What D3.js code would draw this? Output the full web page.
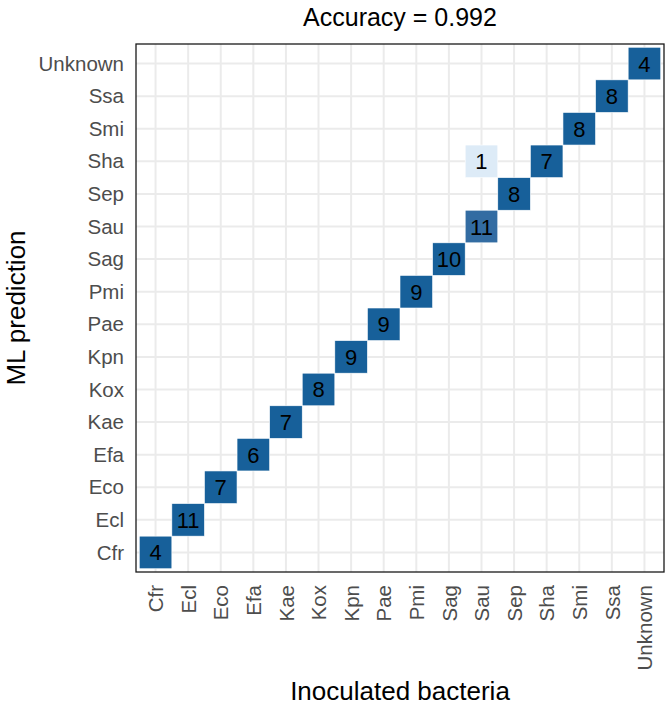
<!DOCTYPE html>
<html>
<head>
<meta charset="utf-8">
<script src="https://cdn.jsdelivr.net/npm/d3@7"></script>
<style>
  body { margin: 0; background: #fff; }
  text { font-family: "Liberation Sans", Arial, sans-serif; }
</style>
</head>
<body>
<script>
// classes, same order on both axes
var classes = ["Cfr", "Ecl", "Eco", "Efa", "Kae", "Kox", "Kpn", "Pae", "Pmi",
               "Sag", "Sau", "Sep", "Sha", "Smi", "Ssa", "Unknown"]

// confusion counts: inoculated (truth) vs predicted
var truth     = ["Cfr", "Ecl", "Eco", "Efa", "Kae", "Kox", "Kpn", "Pae", "Pmi",
                 "Sag", "Sau", "Sau", "Sep", "Sha", "Smi", "Ssa", "Unknown"]
var predicted = ["Cfr", "Ecl", "Eco", "Efa", "Kae", "Kox", "Kpn", "Pae", "Pmi",
                 "Sag", "Sau", "Sha", "Sep", "Sha", "Smi", "Ssa", "Unknown"]
var counts    = [4, 11, 7, 6, 7, 8, 9, 9, 9, 10, 11, 1, 8, 7, 8, 8, 4]

var title = "Accuracy = 0.992"

function main() {
  width = 666
  height = 709

  var svg = d3.select("body").append("svg")
    .attr("width", width)
    .attr("height", height)

  var left = 136, top = 44, size = 528

  // column totals for fill proportion
  var colTotal = {}
  truth.forEach(function(t, i) { colTotal[t] = (colTotal[t] || 0) + counts[i] })

  var data = counts.map(function(c, i) {
    return { x: truth[i], y: predicted[i], n: c, p: c / colTotal[truth[i]] }
  })

  // ggplot style discrete expansion: 0.6 of a unit at each end
  var unit = size / (classes.length - 1 + 1.2)
  var x = d3.scalePoint().domain(classes)
    .range([left + 0.6 * unit, left + size - 0.6 * unit])
  var y = d3.scalePoint().domain(classes)
    .range([top + size - 0.6 * unit, top + 0.6 * unit])

  var fill = d3.scaleLinear().domain(d3.extent(data, function(d) { return d.p }))
    .range(["#ddebf7", "#17609a"])
    .interpolate(d3.interpolateLab)

  // grid
  var g = svg.append("g")
  g.selectAll("line.vx").data(classes).enter().append("line")
    .attr("x1", function(d) { return x(d) }).attr("x2", function(d) { return x(d) })
    .attr("y1", top).attr("y2", top + size)
    .attr("stroke", "#ebebeb").attr("stroke-width", 2)
  g.selectAll("line.hy").data(classes).enter().append("line")
    .attr("y1", function(d) { return y(d) }).attr("y2", function(d) { return y(d) })
    .attr("x1", left).attr("x2", left + size)
    .attr("stroke", "#ebebeb").attr("stroke-width", 2)

  // tiles
  g.selectAll("rect.tile").data(data).enter().append("rect")
    .attr("x", function(d) { return x(d.x) - unit / 2 })
    .attr("y", function(d) { return y(d.y) - unit / 2 })
    .attr("width", unit).attr("height", unit)
    .attr("fill", function(d) { return fill(d.p) })
    .attr("stroke", "#ffffff").attr("stroke-width", 0.6)

  g.selectAll("text.lab").data(data).enter().append("text")
    .attr("x", function(d) { return x(d.x) })
    .attr("y", function(d) { return y(d.y) + 8 })
    .attr("text-anchor", "middle")
    .attr("font-size", 22)
    .attr("fill", "#000")
    .text(function(d) { return d.n })

  // border
  svg.append("rect")
    .attr("x", left).attr("y", top).attr("width", size).attr("height", size)
    .attr("fill", "none").attr("stroke", "#1a1a1a").attr("stroke-width", 1.3)

  // axes (labels only, no ticks)
  var yAxis = svg.append("g")
    .attr("transform", "translate(" + left + ",0)")
    .call(d3.axisLeft(y).tickSize(0).tickPadding(12))
  yAxis.select(".domain").remove()
  yAxis.selectAll("text")
    .attr("font-size", 20.5).attr("fill", "#4d4d4d")
    .attr("font-family", "Liberation Sans, Arial, sans-serif")

  var xAxis = svg.append("g")
    .attr("transform", "translate(0," + (top + size) + ")")
    .call(d3.axisBottom(x).tickSize(0))
  xAxis.select(".domain").remove()
  xAxis.selectAll("text")
    .attr("font-size", 20.5).attr("fill", "#4d4d4d")
    .attr("font-family", "Liberation Sans, Arial, sans-serif")
    .attr("text-anchor", "end")
    .attr("transform", "rotate(-90)")
    .attr("x", -13).attr("y", 0).attr("dy", "0.35em")

  // titles
  svg.append("text")
    .attr("x", left + size / 2).attr("y", 26)
    .attr("text-anchor", "middle").attr("font-size", 25)
    .text(title)

  svg.append("text")
    .attr("x", left + size / 2).attr("y", 700)
    .attr("text-anchor", "middle").attr("font-size", 26)
    .text("Inoculated bacteria")

  svg.append("text")
    .attr("transform", "translate(25," + (top + size / 2) + ") rotate(-90)")
    .attr("text-anchor", "middle").attr("font-size", 26)
    .text("ML prediction")
}

main()
</script>
</body>
</html>
